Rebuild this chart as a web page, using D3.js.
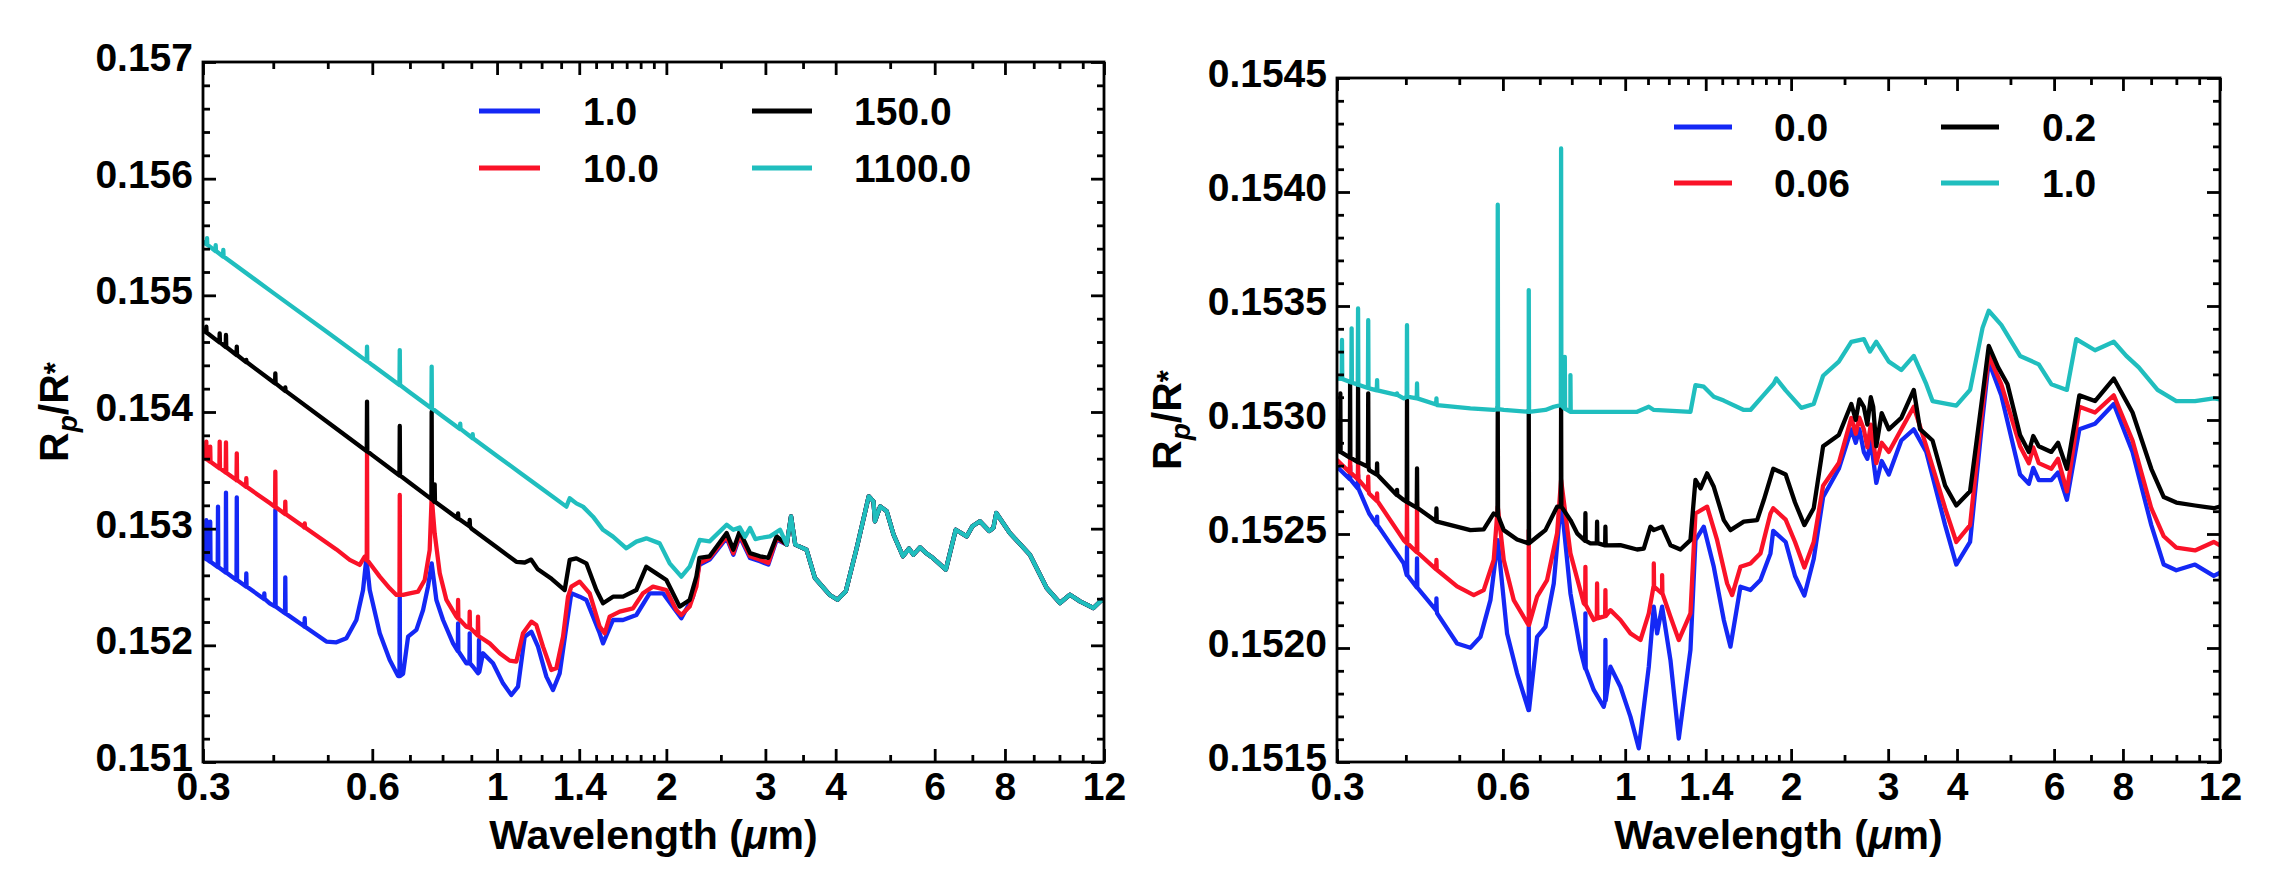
<!DOCTYPE html>
<html><head><meta charset="utf-8">
<script src="https://cdn.jsdelivr.net/npm/d3@7"></script>
<style>body{margin:0;background:#fff}svg{display:block}</style>
</head><body>
<svg id="c" width="2281" height="885"></svg>
<script>
// ---------- tick labels / categories ----------
const xTickLabels = [0.3, 0.6, 1, 1.4, 2, 3, 4, 6, 8, 12];
const xMinorTicks = [0.4, 0.5, 0.7, 0.8, 0.9, 1.1, 1.2, 1.3, 1.5, 1.6, 1.7, 1.8, 1.9, 2.5, 3.5, 5, 7, 9, 10, 11];
const leftYTicks = [0.151, 0.152, 0.153, 0.154, 0.155, 0.156, 0.157];
const rightYTicks = [0.1515, 0.1520, 0.1525, 0.1530, 0.1535, 0.1540, 0.1545];
const leftLegend = ["1.0", "10.0", "150.0", "1100.0"];
const rightLegend = ["0.0", "0.06", "0.2", "1.0"];
const seriesColors = ["#1428f5", "#fa1228", "#000000", "#20bebe"];

// ---------- LEFT PANEL data: [wavelength um, Rp/R*] ----------
const leftBlue = [[0.3,0.15276],[0.3439,0.15256],[0.3942,0.15236],[0.4519,0.15217],[0.4971,0.152032],[0.518,0.152026],[0.5396,0.15206],[0.5621,0.152217],[0.5777,0.152474],[0.5856,0.152746],[0.5937,0.152474],[0.6186,0.152103],[0.6444,0.151874],[0.6668,0.151737],[0.6806,0.151757],[0.6946,0.152074],[0.7187,0.152132],[0.7386,0.152303],[0.7537,0.152503],[0.7651,0.152703],[0.78,0.152389],[0.8016,0.152217],[0.8351,0.152017],[0.8582,0.151932],[0.8819,0.151846],[0.9064,0.151817],[0.925,0.15176],[0.9441,0.151932],[0.9835,0.151846],[1.0246,0.151674],[1.0602,0.151574],[1.0895,0.151646],[1.1197,0.152074],[1.1507,0.152117],[1.1825,0.151989],[1.2237,0.151732],[1.2574,0.151617],[1.2922,0.15176],[1.328,0.15216],[1.3554,0.152446],[1.4024,0.152417],[1.4413,0.152389],[1.5221,0.152103],[1.5431,0.152017],[1.6075,0.152217],[1.6748,0.152217],[1.7686,0.15226],[1.8678,0.152446],[1.9727,0.152446],[2.0834,0.15229],[2.1265,0.152232],[2.2307,0.152417],[2.29,0.152691],[2.387,0.152735],[2.56,0.15292],[2.631,0.152776],[2.70,0.152935],[2.817,0.152749],[2.934,0.15272],[3.036,0.152692],[3.142,0.152906]];
const leftBlueSpikes = [[0.3041,0.15274,0.153074],[0.309,0.152717,0.15306],[0.319,0.152672,0.153189],[0.3296,0.152624,0.153309],[0.3445,0.15256,0.153269],[0.3582,0.152504,0.152617],[0.3856,0.152398,0.152446],[0.4034,0.152333,0.15316],[0.4202,0.152274,0.152583],[0.455,0.152159,0.152232],[0.6714,0.151737,0.152446],[0.8525,0.15195,0.152189],[0.894,0.151846,0.152103],[0.9286,0.15177,0.152046]];

const leftRed = [[0.3,0.153617],[0.3439,0.153418],[0.3942,0.153219],[0.4519,0.15302],[0.518,0.152822],[0.547,0.152732],[0.5699,0.152689],[0.5816,0.15276],[0.5937,0.152703],[0.6186,0.152589],[0.6444,0.152489],[0.6623,0.152432],[0.6806,0.152432],[0.6993,0.152446],[0.7236,0.15246],[0.7436,0.15256],[0.7589,0.152817],[0.7651,0.153274],[0.7746,0.15296],[0.7908,0.152617],[0.8127,0.152389],[0.8466,0.152246],[0.8819,0.15216],[0.9313,0.152074],[0.9702,0.152017],[1.0107,0.151932],[1.053,0.151869],[1.0821,0.151861],[1.1121,0.152103],[1.1507,0.152203],[1.1745,0.152174],[1.207,0.151989],[1.2489,0.151789],[1.2747,0.151803],[1.31,0.152074],[1.337,0.152417],[1.3554,0.152503],[1.4024,0.152546],[1.4611,0.152446],[1.5221,0.15216],[1.5536,0.152103],[1.5857,0.152246],[1.652,0.152289],[1.7446,0.152317],[1.8174,0.152446],[1.8935,0.152503],[1.9999,0.152474],[2.0834,0.152303],[2.1265,0.15226],[2.2003,0.152332],[2.2614,0.152503],[2.29,0.152706],[2.387,0.152749],[2.56,0.152934],[2.631,0.15279],[2.70,0.152949],[2.817,0.152763],[2.934,0.152734],[3.036,0.152706],[3.142,0.15292]];
const leftRedSpikes = [[0.3041,0.153597,0.153746],[0.309,0.153574,0.153703],[0.3212,0.153518,0.153746],[0.3296,0.15348,0.15374],[0.3445,0.153416,0.153646],[0.3582,0.153359,0.153432],[0.4034,0.153186,0.153489],[0.4202,0.153126,0.153232],[0.455,0.15301,0.153046],[0.5872,0.15273,0.15366],[0.6714,0.152432,0.153289],[0.8525,0.152232,0.152389],[0.894,0.15215,0.152289],[0.925,0.152085,0.152246]];

const leftBlack = [[0.3,0.154703],[0.4,0.154257],[0.5,0.153912],[0.6,0.15363],[0.7,0.153391],[0.8,0.153184],[0.9,0.153002],[1.0,0.152838],[1.0821,0.152716],[1.12,0.15271],[1.15,0.152735],[1.18,0.152655],[1.25,0.15257],[1.3189,0.152474],[1.3463,0.152732],[1.3835,0.152746],[1.4413,0.152703],[1.5015,0.152474],[1.5431,0.15236],[1.6075,0.152417],[1.6748,0.152417],[1.7686,0.152474],[1.8424,0.152674],[1.9195,0.152617],[1.9999,0.15256],[2.112,0.152332],[2.2003,0.152389],[2.2614,0.152589],[2.29,0.152749],[2.387,0.152763],[2.56,0.152963],[2.631,0.15282],[2.70,0.152977],[2.817,0.15279],[2.934,0.152763],[3.036,0.15275],[3.142,0.152934]];
const leftBlackSpikes = [[0.3041,0.154682,0.154731],[0.3212,0.154597,0.154674],[0.3296,0.154557,0.15466],[0.3445,0.154489,0.15456],[0.3582,0.154428,0.154446],[0.4034,0.154245,0.154331],[0.4202,0.154181,0.154211],[0.5872,0.153663,0.154089],[0.6714,0.153455,0.15388],[0.7651,0.153253,0.154003],[0.7746,0.15323,0.15338],[0.8525,0.153087,0.153131],[0.894,0.15302,0.153075]];

const leftCyan = [[0.3,0.15546],[0.4,0.155021],[0.5,0.154681],[0.6,0.154402],[0.7,0.154167],[0.8,0.153964],[0.9,0.153784],[1.0,0.153623],[1.1,0.153478],[1.2,0.153345],[1.328,0.153189],[1.3463,0.15326],[1.3835,0.153217],[1.4216,0.153189],[1.4811,0.153103],[1.5431,0.15299],[1.6075,0.152932],[1.6979,0.152832],[1.7686,0.152889],[1.8424,0.152917],[1.946,0.152874],[2.0273,0.152703],[2.1265,0.152589],[2.2003,0.152674],[2.2923,0.152903],[2.387,0.152891],[2.56,0.153034],[2.631,0.15299],[2.70,0.153011],[2.76,0.15293],[2.817,0.153006],[2.88,0.15291],[2.934,0.15292],[3.057,0.152934],[3.185,0.152991]];
const leftCyanSpikes = [[0.305,0.155435,0.15549],[0.316,0.15538,0.15543],[0.326,0.155333,0.15539],[0.5872,0.154436,0.15456],[0.6714,0.154231,0.154531],[0.7651,0.154032,0.154389],[0.86,0.153855,0.1539],[0.905,0.153775,0.15381]];

// shared long-wavelength part (all four left curves overlap here)
const leftTail = [[3.274,0.152863],[3.332,0.153106],[3.39,0.152863],[3.55,0.15282],[3.675,0.152577],[3.90,0.152434],[4.03,0.152391],[4.17,0.152463],[4.36,0.152834],[4.58,0.153277],[4.67,0.153234],[4.698,0.153063],[4.80,0.153191],[4.93,0.153149],[5.07,0.152949],[5.27,0.152763],[5.40,0.15283],[5.50,0.152777],[5.65,0.15284],[5.79,0.152791],[5.95,0.15275],[6.05,0.15272],[6.28,0.152649],[6.54,0.152991],[6.84,0.152934],[7.0,0.15302],[7.22,0.153063],[7.5,0.15298],[7.63,0.153006],[7.72,0.153134],[8.16,0.152963],[8.86,0.152777],[9.49,0.152491],[10.02,0.152363],[10.44,0.152434],[10.88,0.152377],[11.49,0.15232],[11.9,0.152391],[12.0,0.15238]];

// ---------- RIGHT PANEL data ----------
const rightBlue = [[0.3,0.152795],[0.3431,0.15259],[0.3964,0.152371],[0.4558,0.152152],[0.4954,0.15202],[0.5238,0.152001],[0.5462,0.152049],[0.5695,0.15221],[0.5872,0.152473],[0.6105,0.152064],[0.6366,0.151889],[0.6684,0.151728],[0.6921,0.152049],[0.7166,0.152093],[0.742,0.152283],[0.7651,0.152649],[0.7955,0.15224],[0.8294,0.151991],[0.8769,0.151816],[0.9143,0.151742],[0.9402,0.151918],[0.9802,0.15183],[1.0221,0.151699],[1.0584,0.15156],[1.1036,0.151918],[1.1269,0.152181],[1.1427,0.152064],[1.1668,0.152181],[1.2081,0.151947],[1.2509,0.151603],[1.3134,0.151991],[1.3412,0.152473],[1.3887,0.152532],[1.4479,0.152356],[1.5097,0.152123],[1.5523,0.152006],[1.6186,0.152269],[1.6877,0.152254],[1.7597,0.152298],[1.8347,0.152415],[1.856,0.152514],[1.955,0.152465],[2.033,0.152316],[2.114,0.15223],[2.198,0.15239],[2.286,0.152662],[2.441,0.152786],[2.572,0.152959],[2.62,0.15290],[2.66,0.15296],[2.71,0.15286],[2.75,0.15283],[2.79,0.15291],[2.855,0.152724],[2.92,0.15282],[3.008,0.152761],[3.169,0.15291],[3.339,0.152959],[3.518,0.15286],[3.806,0.152539],[3.988,0.152366],[4.224,0.152465],[4.45,0.153009],[4.567,0.153256],[4.812,0.153108],[5.205,0.152761],[5.4,0.15272],[5.5,0.15279],[5.628,0.152736],[5.931,0.152736],[6.1,0.15277],[6.33,0.15265],[6.668,0.152959],[7.119,0.152984],[7.699,0.15307],[8.327,0.15286],[9.006,0.152539],[9.487,0.152366],[9.997,0.152341],[10.81,0.152366],[11.69,0.152316],[12,0.15233]];
const rightBlueSpikes = [[0.3169,0.15274,0.1528],[0.3276,0.1527,0.15276],[0.3547,0.15254,0.152576],[0.4019,0.15232,0.152444],[0.4191,0.152265,0.152393],[0.4545,0.152165,0.152218],[0.6684,0.151728,0.152093],[0.8469,0.15191,0.152152],[0.9207,0.15177,0.152035]];

const rightRed = [[0.3,0.152824],[0.3431,0.152678],[0.3964,0.152473],[0.4558,0.152342],[0.4954,0.15227],[0.5312,0.152232],[0.5538,0.152254],[0.5774,0.152386],[0.5872,0.15262],[0.6021,0.152386],[0.6278,0.15221],[0.6684,0.152101],[0.6921,0.152225],[0.7216,0.152298],[0.7524,0.152503],[0.7651,0.152737],[0.7955,0.152415],[0.8411,0.152196],[0.8769,0.152123],[0.9402,0.152166],[0.9802,0.152123],[1.0221,0.152064],[1.0658,0.152035],[1.1036,0.152152],[1.1269,0.152269],[1.1668,0.15224],[1.2081,0.152137],[1.2509,0.152035],[1.3134,0.152152],[1.3412,0.15259],[1.4082,0.15262],[1.4683,0.152473],[1.5309,0.152283],[1.5632,0.152232],[1.6186,0.152356],[1.6877,0.152371],[1.7597,0.152415],[1.8347,0.15259],[1.856,0.152613],[1.955,0.152563],[2.033,0.152465],[2.114,0.152353],[2.198,0.152465],[2.286,0.152712],[2.441,0.152811],[2.572,0.153009],[2.62,0.15294],[2.66,0.15301],[2.71,0.152959],[2.75,0.15288],[2.79,0.15298],[2.855,0.152811],[2.92,0.15290],[3.008,0.15286],[3.169,0.152959],[3.339,0.153058],[3.518,0.152885],[3.806,0.152613],[3.988,0.152465],[4.224,0.152539],[4.45,0.153058],[4.567,0.153281],[4.812,0.153157],[5.205,0.152885],[5.4,0.15281],[5.5,0.15288],[5.628,0.152811],[5.931,0.152786],[6.1,0.15283],[6.33,0.152687],[6.668,0.153058],[7.119,0.153033],[7.699,0.153108],[8.327,0.15291],[9.006,0.152613],[9.487,0.15249],[9.997,0.15244],[10.81,0.152428],[11.69,0.152465],[12,0.15245]];
const rightRedSpikes = [[0.3169,0.15277,0.152839],[0.3276,0.15274,0.15281],[0.3418,0.15269,0.152751],[0.3547,0.152645,0.152678],[0.4019,0.15246,0.152634],[0.4191,0.15242,0.152641],[0.4545,0.152345,0.152386],[0.6684,0.152101,0.152517],[0.8469,0.15219,0.152356],[0.8892,0.15213,0.152283],[0.9207,0.15214,0.152254],[1.1269,0.152269,0.152371],[1.1668,0.15224,0.15232]];

const rightBlack = [[0.3,0.152868],[0.3431,0.15278],[0.3964,0.152649],[0.4558,0.152554],[0.5238,0.152517],[0.5538,0.15252],[0.5774,0.15259],[0.6021,0.152517],[0.6366,0.152476],[0.6684,0.152459],[0.6921,0.152488],[0.7166,0.152517],[0.7524,0.15262],[0.7955,0.152561],[0.818,0.152503],[0.8648,0.152459],[0.9802,0.152451],[1.051,0.152432],[1.0807,0.152436],[1.1113,0.152532],[1.1269,0.152517],[1.1668,0.152532],[1.2081,0.152451],[1.2597,0.152432],[1.3134,0.152473],[1.3412,0.152737],[1.37,0.15270],[1.4082,0.152766],[1.4479,0.152707],[1.5097,0.152561],[1.5523,0.152517],[1.6413,0.152554],[1.7353,0.152561],[1.7843,0.152649],[1.856,0.152786],[1.955,0.152761],[2.033,0.152638],[2.114,0.152539],[2.198,0.152613],[2.286,0.152885],[2.441,0.152934],[2.572,0.15307],[2.62,0.15300],[2.66,0.15309],[2.71,0.153058],[2.75,0.15298],[2.79,0.15310],[2.818,0.153058],[2.855,0.152885],[2.92,0.15303],[3.008,0.152959],[3.169,0.153009],[3.339,0.153132],[3.427,0.15296],[3.611,0.15291],[3.806,0.152712],[3.988,0.152625],[4.224,0.152687],[4.45,0.153108],[4.567,0.153325],[4.749,0.153231],[4.939,0.153157],[5.205,0.152934],[5.4,0.15286],[5.5,0.15293],[5.628,0.152885],[5.931,0.15286],[6.1,0.15290],[6.33,0.152786],[6.668,0.153108],[7.119,0.153083],[7.699,0.153182],[8.327,0.153033],[9.006,0.152786],[9.487,0.152662],[9.997,0.152638],[10.81,0.152625],[11.69,0.152613],[12,0.15262]];
const rightBlackSpikes = [[0.3042,0.15286,0.153117],[0.3169,0.152835,0.15316],[0.3276,0.152815,0.153146],[0.3418,0.152795,0.153117],[0.3547,0.15276,0.15281],[0.3855,0.152671,0.152693],[0.4019,0.15264,0.153087],[0.4191,0.152615,0.152788],[0.4545,0.152556,0.152612],[0.5872,0.15258,0.153058],[0.6684,0.152459,0.153044],[0.7651,0.15262,0.153073],[0.8469,0.15247,0.152591],[0.8892,0.15246,0.152554],[0.9207,0.15245,0.152532]];

const rightCyan = [[0.3,0.153182],[0.3431,0.153139],[0.3964,0.153095],[0.4558,0.153065],[0.5238,0.153051],[0.5774,0.153044],[0.6021,0.153044],[0.6684,0.153036],[0.7166,0.153044],[0.742,0.153058],[0.7955,0.153036],[0.9143,0.153036],[1.051,0.153036],[1.1036,0.153058],[1.1269,0.153044],[1.3134,0.153036],[1.3412,0.153153],[1.3887,0.153146],[1.4479,0.153102],[1.5097,0.153085],[1.6413,0.153044],[1.6877,0.153044],[1.7843,0.15311],[1.8605,0.15316],[1.88,0.153182],[1.955,0.15313],[2.087,0.153053],[2.198,0.15307],[2.286,0.153194],[2.441,0.153256],[2.572,0.153343],[2.71,0.153355],[2.78,0.15330],[2.855,0.153343],[3.008,0.153256],[3.169,0.153219],[3.339,0.153281],[3.518,0.153157],[3.611,0.153083],[3.988,0.153063],[4.224,0.153132],[4.45,0.153404],[4.567,0.153479],[4.812,0.153417],[5.205,0.153281],[5.628,0.153244],[5.931,0.153157],[6.33,0.153132],[6.583,0.153355],[7.119,0.153306],[7.699,0.153343],[8.113,0.153281],[8.547,0.153231],[9.244,0.153132],[9.997,0.153083],[10.81,0.153083],[11.69,0.153095],[12,0.15309]];
const rightCyanSpikes = [[0.3063,0.15318,0.153351],[0.3189,0.153165,0.153402],[0.3276,0.153155,0.153489],[0.3418,0.15314,0.153438],[0.3547,0.15313,0.153175],[0.3855,0.15311,0.153117],[0.4019,0.153102,0.153416],[0.4191,0.153095,0.15316],[0.4545,0.153068,0.153095],[0.5872,0.153048,0.153944],[0.6684,0.153036,0.15357],[0.7651,0.153065,0.154191],[0.777,0.15305,0.153277],[0.7955,0.153036,0.153197]];

// ---------- helpers ----------
function withSpikes(cont, spikes) {
  const pts = cont.slice();
  spikes.forEach(([w, base, top]) => {
    pts.push([w * 0.9988, base], [w, top], [w * 1.0012, base]);
  });
  pts.sort((a, b) => a[0] - b[0]);
  return pts;
}

const FONT = "'Liberation Sans', Arial, Helvetica, sans-serif";
const svg = d3.select("#c");

function panel(cfg) {
  const {x0, x1, y0, y1, yDomain, yTicks, yMinorStep, yFmt, series, legend, legendPos, titleX} = cfg;
  const x = d3.scaleLog().domain([0.3, 12]).range([x0, x1]);
  const y = d3.scaleLinear().domain(yDomain).range([y1, y0]);
  const g = svg.append("g");
  const clipId = "clip" + x0;
  g.append("clipPath").attr("id", clipId).append("rect")
    .attr("x", x0).attr("y", y0).attr("width", x1 - x0).attr("height", y1 - y0);

  // curves
  const line = d3.line().x(d => x(d[0])).y(d => y(d[1]));
  const lg = g.append("g").attr("clip-path", `url(#${clipId})`);
  series.forEach((pts, i) => {
    lg.append("path").attr("d", line(pts)).attr("fill", "none")
      .attr("stroke", seriesColors[i]).attr("stroke-width", 4.3)
      .attr("stroke-linejoin", "round").attr("stroke-linecap", "round");
  });

  const yMinor = d3.range(yDomain[0], yDomain[1] + 1e-9, yMinorStep)
    .filter(v => !yTicks.some(t => Math.abs(t - v) < 1e-9));

  function styleAxis(sel) {
    sel.select(".domain").remove();
    sel.selectAll(".tick line").attr("stroke", "#000").attr("stroke-width", 2.8);
    sel.selectAll("text").attr("font-family", FONT).attr("font-weight", "bold")
      .attr("font-size", 39).attr("fill", "#000");
  }
  // bottom
  g.append("g").attr("transform", `translate(0,${y1})`)
    .call(d3.axisBottom(x).tickValues(xTickLabels).tickFormat(d3.format("")).tickSizeInner(-13).tickSizeOuter(0).tickPadding(10))
    .call(styleAxis);
  g.append("g").attr("transform", `translate(0,${y1})`)
    .call(d3.axisBottom(x).tickValues(xMinorTicks).tickFormat("").tickSizeInner(-7).tickSizeOuter(0))
    .call(styleAxis);
  // top
  g.append("g").attr("transform", `translate(0,${y0})`)
    .call(d3.axisTop(x).tickValues(xTickLabels).tickFormat("").tickSizeInner(-13).tickSizeOuter(0))
    .call(styleAxis);
  g.append("g").attr("transform", `translate(0,${y0})`)
    .call(d3.axisTop(x).tickValues(xMinorTicks).tickFormat("").tickSizeInner(-7).tickSizeOuter(0))
    .call(styleAxis);
  // left
  const la = g.append("g").attr("transform", `translate(${x0},0)`)
    .call(d3.axisLeft(y).tickValues(yTicks).tickFormat(d3.format(yFmt)).tickSizeInner(-13).tickSizeOuter(0).tickPadding(10))
    .call(styleAxis);
  la.selectAll("text").attr("dy", "0.22em");
  g.append("g").attr("transform", `translate(${x0},0)`)
    .call(d3.axisLeft(y).tickValues(yMinor).tickFormat("").tickSizeInner(-7).tickSizeOuter(0))
    .call(styleAxis);
  // right
  g.append("g").attr("transform", `translate(${x1},0)`)
    .call(d3.axisRight(y).tickValues(yTicks).tickFormat("").tickSizeInner(-13).tickSizeOuter(0))
    .call(styleAxis);
  g.append("g").attr("transform", `translate(${x1},0)`)
    .call(d3.axisRight(y).tickValues(yMinor).tickFormat("").tickSizeInner(-7).tickSizeOuter(0))
    .call(styleAxis);

  // frame
  g.append("rect").attr("x", x0).attr("y", y0).attr("width", x1 - x0).attr("height", y1 - y0)
    .attr("fill", "none").attr("stroke", "#000").attr("stroke-width", 2.8);

  // x title
  const xt = g.append("text").attr("x", (x0 + x1) / 2).attr("y", 849)
    .attr("text-anchor", "middle").attr("font-family", FONT).attr("font-weight", "bold")
    .attr("font-size", 41);
  xt.append("tspan").text("Wavelength (");
  xt.append("tspan").attr("font-style", "italic").text("\u03bc");
  xt.append("tspan").text("m)");

  // y title
  const yt = g.append("text").attr("transform", `translate(${titleX},${(y0 + y1) / 2}) rotate(-90)`)
    .attr("text-anchor", "middle").attr("font-family", FONT).attr("font-weight", "bold")
    .attr("font-size", 41);
  yt.append("tspan").text("R");
  yt.append("tspan").attr("font-style", "italic").attr("font-size", 28).attr("dy", 9).text("p");
  yt.append("tspan").attr("dy", -9).text("/R");
  yt.append("tspan").attr("font-size", 31).attr("dy", -2).text("*");

  // legend
  legend.forEach((lab, i) => {
    const col = i < 2 ? 0 : 1, row = i % 2;
    const lx = legendPos.lines[col], tx = legendPos.texts[col], ly = legendPos.rows[row];
    g.append("line").attr("x1", lx[0]).attr("x2", lx[1]).attr("y1", ly).attr("y2", ly)
      .attr("stroke", seriesColors[i]).attr("stroke-width", 5);
    g.append("text").attr("x", tx).attr("y", ly).attr("dy", "0.36em")
      .attr("font-family", FONT).attr("font-weight", "bold").attr("font-size", 39).text(lab);
  });
}

panel({
  x0: 203, x1: 1104, y0: 62, y1: 762,
  yDomain: [0.151, 0.157], yTicks: leftYTicks, yMinorStep: 0.0002, yFmt: ".3f",
  series: [
    withSpikes(leftBlue.concat(leftTail), leftBlueSpikes),
    withSpikes(leftRed.concat(leftTail), leftRedSpikes),
    withSpikes(leftBlack.concat(leftTail), leftBlackSpikes),
    withSpikes(leftCyan.concat(leftTail), leftCyanSpikes)
  ],
  legend: leftLegend,
  legendPos: {lines: [[479, 540], [752, 812]], texts: [583, 854], rows: [111, 168]},
  titleX: 68
});

panel({
  x0: 1337, x1: 2220, y0: 78, y1: 762,
  yDomain: [0.1515, 0.1545], yTicks: rightYTicks, yMinorStep: 0.0001, yFmt: ".4f",
  series: [
    withSpikes(rightBlue, rightBlueSpikes),
    withSpikes(rightRed, rightRedSpikes),
    withSpikes(rightBlack, rightBlackSpikes),
    withSpikes(rightCyan, rightCyanSpikes)
  ],
  legend: rightLegend,
  legendPos: {lines: [[1674, 1732], [1941, 1999]], texts: [1774, 2042], rows: [127, 183]},
  titleX: 1181
});
</script>
</body></html>
